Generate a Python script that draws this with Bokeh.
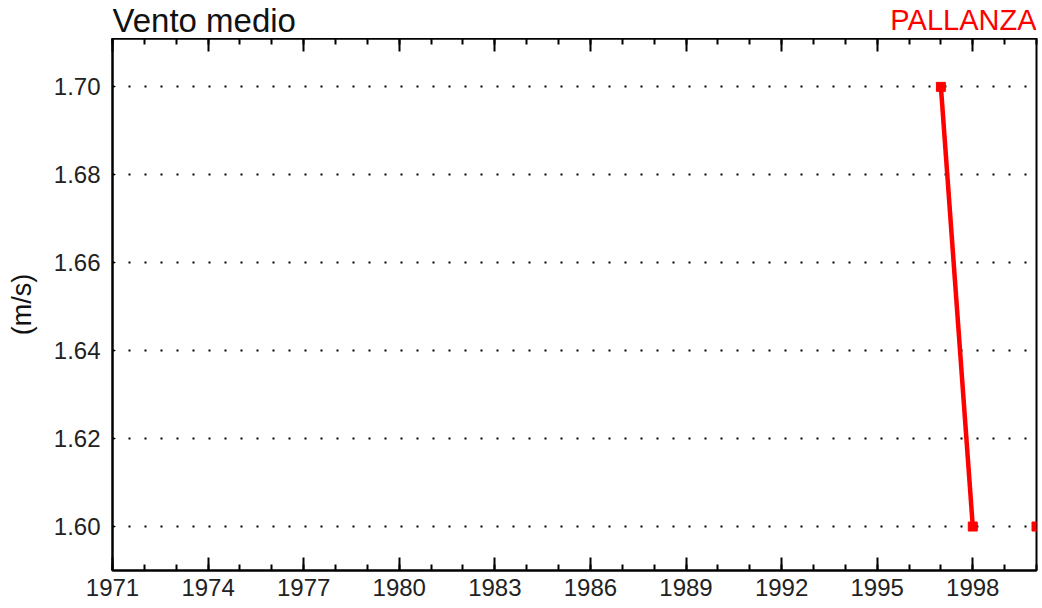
from bokeh.plotting import figure
from bokeh.models import Range1d, FixedTicker, LinearAxis, ColumnDataSource
from bokeh.layouts import column
from bokeh.core.properties import value
from bokeh.embed import file_html
from bokeh.resources import INLINE
import numpy as np

# Data
years = [1997, 1998, 1999, 2000]
wind = [1.70, 1.60, np.nan, 1.60]
x_major = [1971, 1974, 1977, 1980, 1983, 1986, 1989, 1992, 1995, 1998]
x_minor = list(range(1971, 2001))
y_major = [1.60, 1.62, 1.64, 1.66, 1.68, 1.70]
title_left = "Vento medio"
title_right = "PALLANZA"
y_label = "(m/s)"

FONT = "Liberation Sans"
X0, X1 = 1971, 2000
W = 1040
BL, BR = 112, 4
HH = 38

# ---- header with the two titles ----
hdr = figure(width=W, height=HH, output_backend="svg", toolbar_location=None,
             x_range=Range1d(X0, X1), y_range=Range1d(0, HH),
             x_axis_location=None, y_axis_location=None,
             min_border_left=BL, min_border_right=BR, min_border_top=0, min_border_bottom=0,
             background_fill_color="white", border_fill_color="white")
hdr.grid.visible = False
hdr.outline_line_color = None
hdr.text(x=[X0], y=[18.5], text=[title_left], text_align="left", text_baseline="alphabetic",
         text_font=value(FONT), text_font_size="33px", text_color="#111111")
hdr.text(x=[X1], y=[18.5], text=[title_right], text_align="right", text_baseline="alphabetic",
         text_font=value(FONT), text_font_size="29px", text_color="#ff0000")

# ---- main chart ----
p = figure(width=W, height=606 - HH, output_backend="svg", toolbar_location=None,
           x_range=Range1d(X0, X1), y_range=Range1d(1.59, 1.711),
           min_border_left=BL, min_border_right=BR, min_border_top=0, min_border_bottom=36,
           background_fill_color="white", border_fill_color="white")

p.outline_line_color = "black"
p.outline_line_width = 2

xt = FixedTicker(ticks=x_major, minor_ticks=x_minor)
yt = FixedTicker(ticks=y_major)

xa = p.xaxis[0]
xa.ticker = xt
xa.axis_line_width = 2
xa.major_tick_in = 13
xa.major_tick_out = 0
xa.minor_tick_in = 6
xa.minor_tick_out = 0
xa.major_tick_line_width = 2
xa.minor_tick_line_width = 2
xa.major_label_text_font = FONT
xa.major_label_text_font_size = "24px"
xa.major_label_text_color = "#222222"
xa.major_label_standoff = 8

top = LinearAxis(ticker=xt, major_label_text_font_size="0px", axis_line_width=2,
                 major_tick_in=13, major_tick_out=0, minor_tick_in=6, minor_tick_out=0,
                 major_tick_line_width=2, minor_tick_line_width=2, major_label_standoff=0)
top.major_label_overrides = {t: "" for t in x_major}
p.add_layout(top, "above")

ya = p.yaxis[0]
ya.ticker = yt
ya.formatter.use_scientific = False
ya.major_label_overrides = {v: f"{v:.2f}" for v in y_major}
ya.axis_line_width = 2
ya.major_tick_in = 3
ya.major_tick_out = 0
ya.minor_tick_line_color = None
ya.major_label_text_font = FONT
ya.major_label_text_font_size = "24px"
ya.major_label_text_color = "#222222"
ya.major_label_standoff = 12
ya.axis_label = y_label
ya.axis_label_text_font = FONT
ya.axis_label_text_font_size = "27px"
ya.axis_label_text_font_style = "normal"
ya.axis_label_text_color = "#111111"
ya.axis_label_standoff = 14

p.xgrid.visible = False
p.ygrid.ticker = yt
p.ygrid.grid_line_color = "black"
p.ygrid.grid_line_width = 2
p.ygrid.grid_line_dash = "2 14"

src = ColumnDataSource(dict(x=years, y=wind))
p.line("x", "y", source=src, line_color="#ff0000", line_width=4.5)
p.scatter("x", "y", source=src, marker="square", size=9, color="#ff0000")

layout = column(hdr, p, spacing=0)
open("out.html", "w").write(file_html(layout, INLINE))
